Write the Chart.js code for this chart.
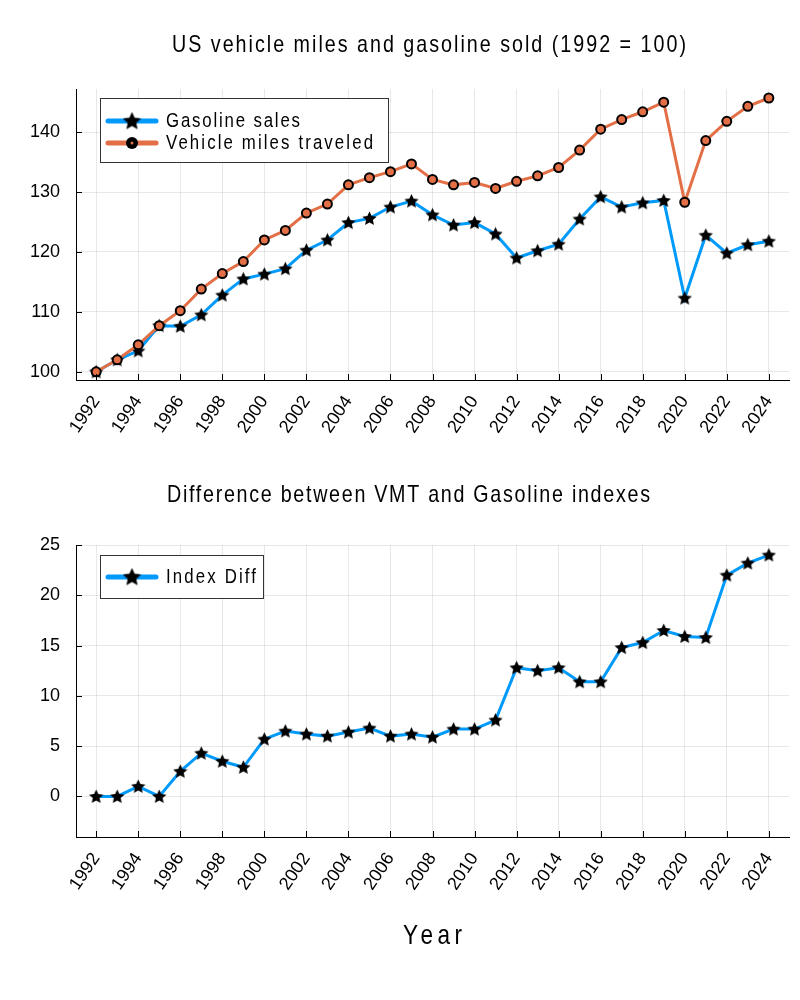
<!DOCTYPE html>
<html>
<head>
<meta charset="utf-8">
<script src="https://cdn.jsdelivr.net/npm/chart.js@4/dist/chart.umd.min.js"></script>
<style>
  body { margin: 0; background: #fff; }
  #wrap { position: relative; width: 800px; height: 1000px; }
  canvas { position: absolute; left: 0; }
  #top { top: 0; }
  #bottom { top: 470px; }
</style>
</head>
<body>
<div id="wrap">
  <canvas id="top" width="800" height="470"></canvas>
  <canvas id="bottom" width="800" height="530"></canvas>
</div>
<script>
// data
const years = [1992, 1993, 1994, 1995, 1996, 1997, 1998, 1999, 2000, 2001, 2002,
  2003, 2004, 2005, 2006, 2007, 2008, 2009, 2010, 2011, 2012, 2013, 2014, 2015,
  2016, 2017, 2018, 2019, 2020, 2021, 2022, 2023, 2024];
const gasoline = [100, 102, 103.5, 107.7, 107.6, 109.5, 112.8, 115.5, 116.3, 117.2, 120.3,
  122, 124.9, 125.6, 127.5, 128.5, 126.2, 124.5, 124.9, 123, 119, 120.2, 121.3, 125.5,
  129.2, 127.5, 128.2, 128.6, 112.3, 122.8, 119.8, 121.2, 121.8];
const vmt = [100, 102, 104.5, 107.7, 110.2, 113.8, 116.4, 118.4, 122, 123.6, 126.5,
  128, 131.2, 132.4, 133.4, 134.7, 132.1, 131.2, 131.6, 130.6, 131.8, 132.7, 134.1, 137,
  140.5, 142.1, 143.4, 145, 128.3, 138.6, 141.8, 144.3, 145.7];
const indexDiff = [0, 0, 1.0, 0, 2.5, 4.3, 3.5, 2.9, 5.7, 6.5, 6.2,
  6.0, 6.4, 6.8, 6.0, 6.2, 5.9, 6.7, 6.7, 7.6, 12.8, 12.5, 12.8, 11.4,
  11.4, 14.8, 15.3, 16.5, 15.9, 15.8, 22.0, 23.2, 24.0];

const yearTicks = [1992, 1994, 1996, 1998, 2000, 2002, 2004, 2006, 2008, 2010, 2012,
  2014, 2016, 2018, 2020, 2022, 2024];
const indexTicks = [100, 110, 120, 130, 140];
const diffTicks = [0, 5, 10, 15, 20, 25];

const BLUE = '#009AFA';
const ORANGE = '#E26F46';
const GRID = 'rgba(0,0,0,0.09)';
const FONT = '"Liberation Sans", Arial, sans-serif';

// filled five point star used as marker
function makeStar(size) {
  const c = document.createElement('canvas');
  c.width = size;
  c.height = size;
  const g = c.getContext('2d');
  const r = size / 2, ri = r * 0.48;
  g.beginPath();
  for (let i = 0; i < 10; i++) {
    const a = -Math.PI / 2 + i * Math.PI / 5;
    const rr = i % 2 === 0 ? r : ri;
    g.lineTo(r + rr * Math.cos(a), r + rr * Math.sin(a) + 0.5);
  }
  g.closePath();
  g.fillStyle = '#000';
  g.fill();
  return c;
}
const star = makeStar(15);
const bigStar = makeStar(19);

// narrow, spaced-out text stretched to the width seen in the reference
function fitText(ctx, text, x, y, size, width) {
  const sx = 0.82;
  ctx.save();
  ctx.font = size + 'px ' + FONT;
  ctx.fillStyle = '#000';
  ctx.textBaseline = 'middle';
  ctx.textAlign = 'left';
  const natural = ctx.measureText(text).width * sx;
  const gap = Math.max(0, (width - natural) / (text.length - 1)) / sx;
  ctx.letterSpacing = gap + 'px';
  ctx.translate(x, y);
  ctx.scale(sx, 1);
  ctx.fillText(text, 0, 0);
  ctx.restore();
}

// inside ticks, titles and the framed legend
const decor = {
  id: 'decor',
  afterDraw(chart, args, opts) {
    const ctx = chart.ctx;
    const a = chart.chartArea;
    const xs = chart.scales.x, ys = chart.scales.y;
    ctx.save();
    ctx.strokeStyle = '#000';
    ctx.lineWidth = 1;
    ctx.beginPath();
    xs.ticks.forEach(t => {
      const px = Math.round(xs.getPixelForValue(t.value)) + 0.5;
      ctx.moveTo(px, a.bottom);
      ctx.lineTo(px, a.bottom - 6);
    });
    ys.ticks.forEach(t => {
      const py = Math.round(ys.getPixelForValue(t.value)) + 0.5;
      ctx.moveTo(a.left, py);
      ctx.lineTo(a.left + 6, py);
    });
    ctx.stroke();
    ctx.restore();

    opts.texts.forEach(t => fitText(ctx, t.text, t.x, t.y, t.size, t.width));

    const b = opts.legend;
    ctx.save();
    ctx.fillStyle = '#fff';
    ctx.fillRect(b.x, b.y, b.w, b.h);
    ctx.strokeStyle = '#333';
    ctx.lineWidth = 1;
    ctx.strokeRect(b.x + 0.5, b.y + 0.5, b.w, b.h);
    b.items.forEach((it, i) => {
      const cy = b.y + b.rows[i];
      ctx.strokeStyle = it.color;
      ctx.lineWidth = 5;
      ctx.lineCap = 'round';
      ctx.beginPath();
      ctx.moveTo(b.x + 8, cy);
      ctx.lineTo(b.x + 56, cy);
      ctx.stroke();
      if (it.marker === 'star') {
        ctx.drawImage(bigStar, b.x + 32 - 9.5, cy - 9.5);
      } else {
        ctx.beginPath();
        ctx.arc(b.x + 32, cy, 6, 0, Math.PI * 2);
        ctx.fillStyle = '#000';
        ctx.fill();
        ctx.beginPath();
        ctx.arc(b.x + 32, cy, 1.5, 0, Math.PI * 2);
        ctx.fillStyle = it.color;
        ctx.fill();
      }
      fitText(ctx, it.label, b.x + 66, cy, 20.5, it.width);
    });
    ctx.restore();
  }
};

function points(vals) {
  return years.map((y, i) => ({ x: y, y: vals[i] }));
}

function axes(yMin, yMax, yTicks, xHeight) {
  return {
    x: {
      type: 'linear',
      min: 1991.04,
      max: 2024.96,
      afterBuildTicks: s => { s.ticks = yearTicks.map(v => ({ value: v })); },
      afterFit: s => { s.height = xHeight; },
      grid: { color: GRID, drawTicks: false },
      border: { color: '#000', width: 1 },
      ticks: {
        font: { size: 18, family: FONT },
        color: '#000',
        minRotation: 56,
        maxRotation: 56,
        padding: 12,
        autoSkip: false,
        callback: v => String(v)
      }
    },
    y: {
      min: yMin,
      max: yMax,
      afterBuildTicks: s => { s.ticks = yTicks.map(v => ({ value: v })); },
      afterFit: s => { s.width = 76; },
      grid: { color: GRID, drawTicks: false },
      border: { color: '#000', width: 1 },
      ticks: {
        font: { size: 18, family: FONT },
        color: '#000',
        padding: 16,
        callback: v => String(v)
      }
    }
  };
}

new Chart(document.getElementById('top'), {
  type: 'line',
  data: {
    datasets: [
      {
        label: 'Gasoline sales',
        data: points(gasoline),
        borderColor: BLUE,
        borderWidth: 3,
        pointStyle: star,
        pointRadius: 7,
        order: 2
      },
      {
        label: 'Vehicle miles traveled',
        data: points(vmt),
        borderColor: ORANGE,
        borderWidth: 3,
        pointStyle: 'circle',
        pointRadius: 4.5,
        pointBackgroundColor: ORANGE,
        pointBorderColor: '#000',
        pointBorderWidth: 2,
        order: 1
      }
    ]
  },
  options: {
    responsive: false,
    animation: false,
    layout: { padding: { top: 89, right: 11, left: 0, bottom: 0 } },
    plugins: {
      legend: { display: false },
      tooltip: { enabled: false },
      decor: {
        texts: [{ text: 'US vehicle miles and gasoline sold (1992 = 100)', x: 172, y: 45, size: 24, width: 514 }],
        legend: {
          x: 100, y: 98, w: 288, h: 64, rows: [23, 45],
          items: [
            { label: 'Gasoline sales', color: BLUE, marker: 'star', width: 134 },
            { label: 'Vehicle miles traveled', color: ORANGE, marker: 'circle', width: 207 }
          ]
        }
      }
    },
    scales: axes(98.63, 147.2, indexTicks, 90)
  },
  plugins: [decor]
});

new Chart(document.getElementById('bottom'), {
  type: 'line',
  data: {
    datasets: [
      {
        label: 'Index Diff',
        data: points(indexDiff),
        borderColor: BLUE,
        borderWidth: 3,
        pointStyle: star,
        pointRadius: 7
      }
    ]
  },
  options: {
    responsive: false,
    animation: false,
    layout: { padding: { top: 75, right: 11, left: 0, bottom: 0 } },
    plugins: {
      legend: { display: false },
      tooltip: { enabled: false },
      decor: {
        texts: [
          { text: 'Difference between VMT and Gasoline indexes', x: 167, y: 25, size: 24, width: 483 },
          { text: 'Year', x: 403, y: 466, size: 27.5, width: 59 }
        ],
        legend: {
          x: 100, y: 85, w: 163, h: 43, rows: [22],
          items: [{ label: 'Index Diff', color: BLUE, marker: 'star', width: 90 }]
        }
      }
    },
    scales: axes(-4.03, 25, diffTicks, 163)
  },
  plugins: [decor]
});
</script>
</body>
</html>
